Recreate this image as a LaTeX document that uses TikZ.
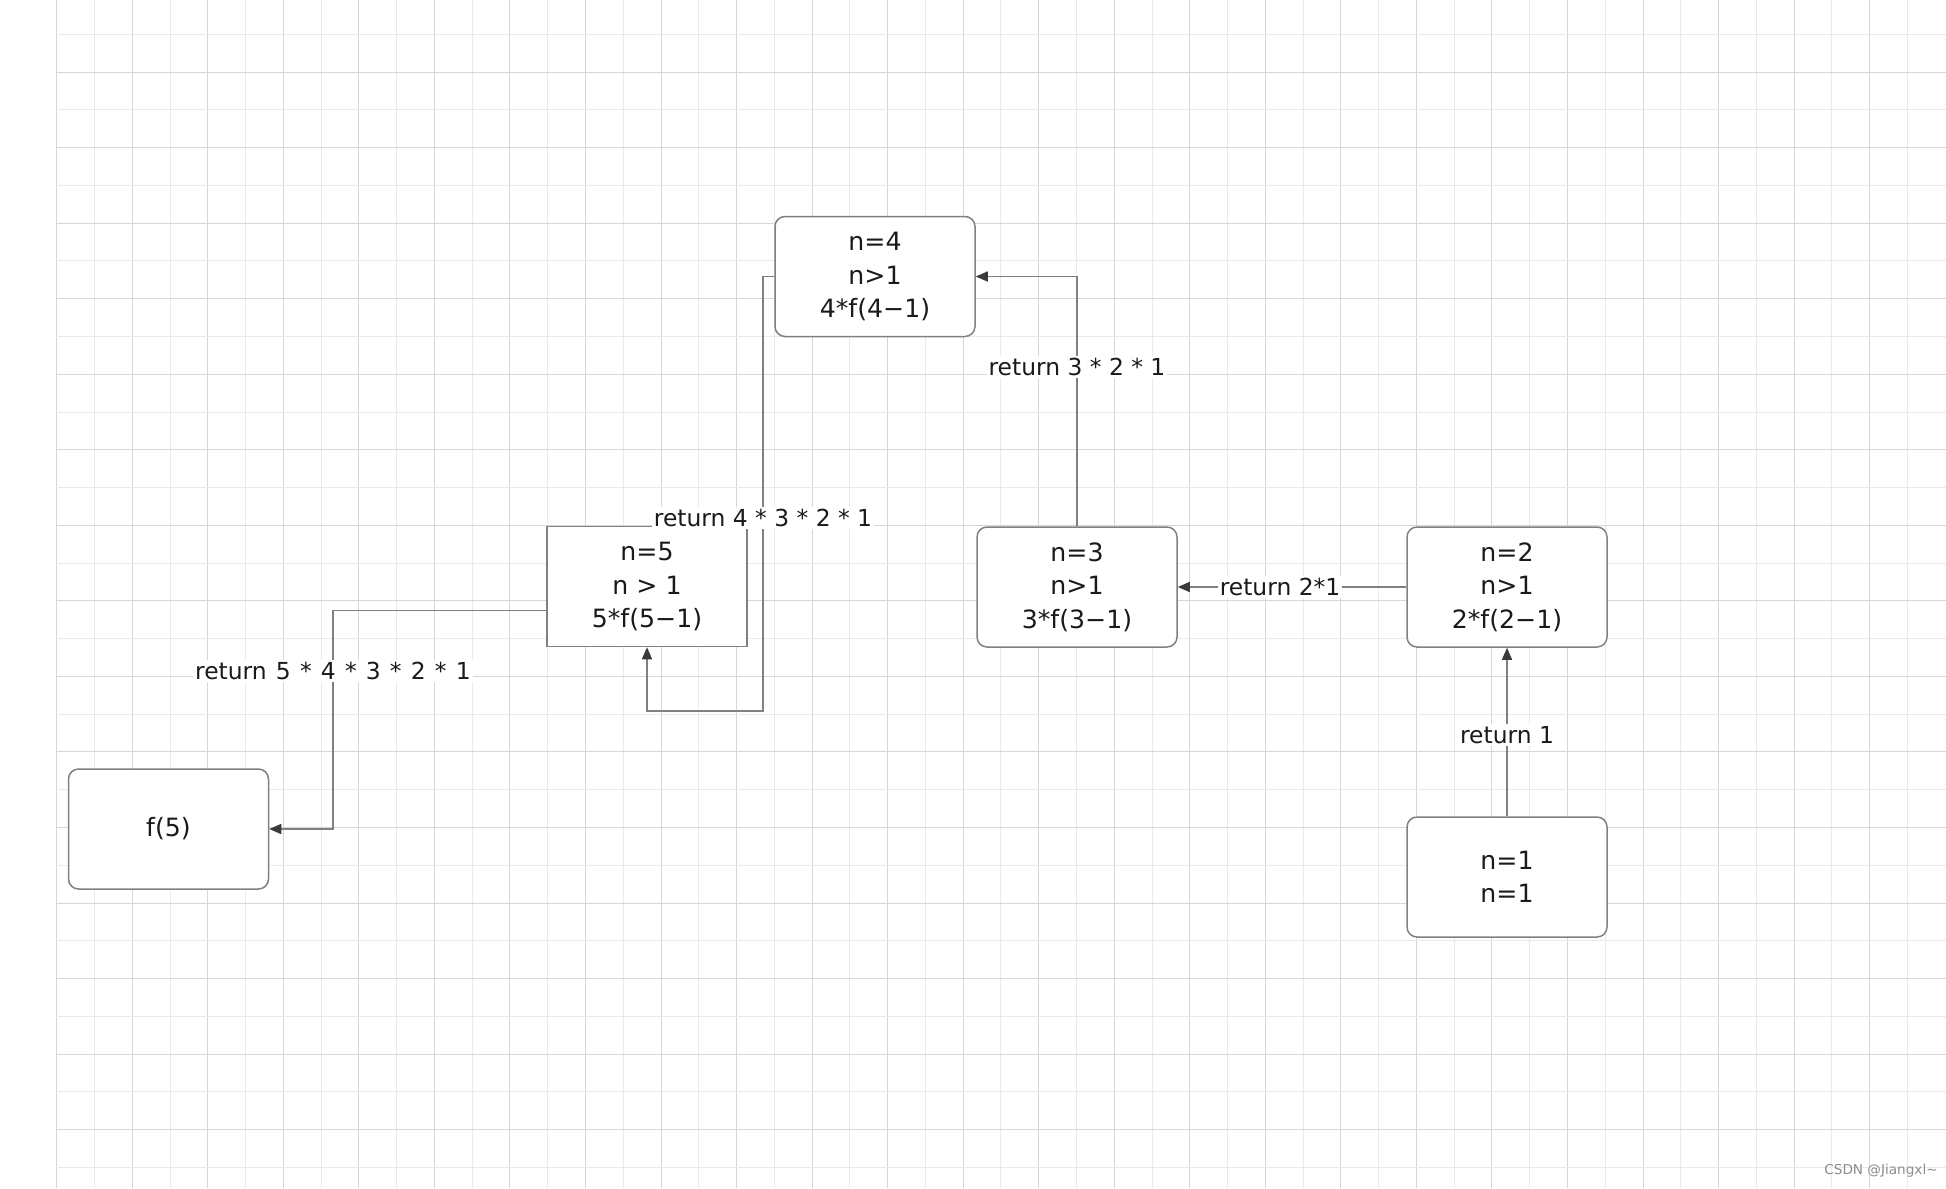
\documentclass[tikz,border=0pt]{standalone}
\usepackage{fontspec}
\setmainfont{DejaVu Sans}
\usetikzlibrary{arrows.meta}
\definecolor{gridmaj}{HTML}{D6D6D6}
\definecolor{gridmin}{HTML}{EAEAEA}
\definecolor{linegray}{HTML}{808080}
\definecolor{tipgray}{HTML}{3A3A3A}
\definecolor{txt}{HTML}{1A1A1A}
\definecolor{wmark}{HTML}{8C8C8C}
\begin{document}
\begin{tikzpicture}[x=0.5pt,y=-0.5pt,
  box/.style={draw=linegray, fill=white, line width=0.75pt, rounded corners=5pt,
    minimum width=100pt, minimum height=60pt, inner sep=0pt, align=center,
    font=\fontsize{12.6}{16.7}\selectfont, text=txt},
  sqbox/.style={box, sharp corners},
  conn/.style={draw=linegray, line width=0.75pt,
    -{Triangle[length=6pt,width=5pt,color=tipgray]}},
  lbl/.style={fill=white, inner sep=1pt, font=\fontsize{11.7}{13}\selectfont, text=txt},
  wm/.style={font=\fontsize{6.8}{8}\selectfont, text=wmark, inner sep=0pt}]
\useasboundingbox (0,0) rectangle (1946,1188);
\fill[white] (0,0) rectangle (1946,1188);
% grid
\foreach \i in {0,...,49}{
  \pgfmathsetmacro{\gx}{floor(56.7+37.77*\i)+0.5}
  \pgfmathtruncatemacro{\odd}{mod(\i,2)}
  \ifnum\odd=0
    \draw[gridmaj, line width=0.5pt] (\gx,0) -- (\gx,1188);
  \else
    \draw[gridmin, line width=0.5pt] (\gx,0) -- (\gx,1188);
  \fi
}
\foreach \j in {0,...,30}{
  \pgfmathsetmacro{\gy}{floor(34.3+37.77*\j)+0.5}
  \pgfmathtruncatemacro{\odd}{mod(\j,2)}
  \ifnum\odd=1
    \draw[gridmaj, line width=0.5pt] (56.2,\gy) -- (1946,\gy);
  \else
    \draw[gridmin, line width=0.5pt] (56.2,\gy) -- (1946,\gy);
  \fi
}
% boxes
\node[box]   (n4) at (875,276.5) {n=4\\n>1\\4*f(4−1)};
\node[sqbox] (n5) at (647,586.5) {n=5\\n > 1\\5*f(5−1)};
\node[box]   (n3) at (1077,587) {n=3\\n>1\\3*f(3−1)};
\node[box]   (n2) at (1507,587) {n=2\\n>1\\2*f(2−1)};
\node[box]   (n1) at (1507,877) {n=1\\n=1};
\node[box]   (f5) at (168.5,829) {f(5)};
% connectors
\draw[conn] (n1.north) -- (n2.south);
\draw[conn] (n2.west) -- (n3.east);
\draw[conn] (n3.north) |- (n4.east);
\draw[conn] (n4.west) -| (763,711) -| (n5.south);
\draw[conn] ([yshift=-12pt]n5.west) -| (333,829) -- (f5.east);
% labels
\node[lbl] (l1) at (1507,735) {return 1};
\node[lbl] (l2) at (1280,587) {return 2*1};
\node[lbl] (l3) at (1077,367) {return 3 * 2 * 1};
\node[lbl] (l4) at (763,518) {return 4 * 3 * 2 * 1};
\node[lbl] (l5) at (333,671) {\spaceskip=4.6pt return 5 * 4 * 3 * 2 * 1};
% watermark
\node[wm] (w) at (1881,1171) {CSDN @Jiangxl\textasciitilde};
\end{tikzpicture}
\end{document}
